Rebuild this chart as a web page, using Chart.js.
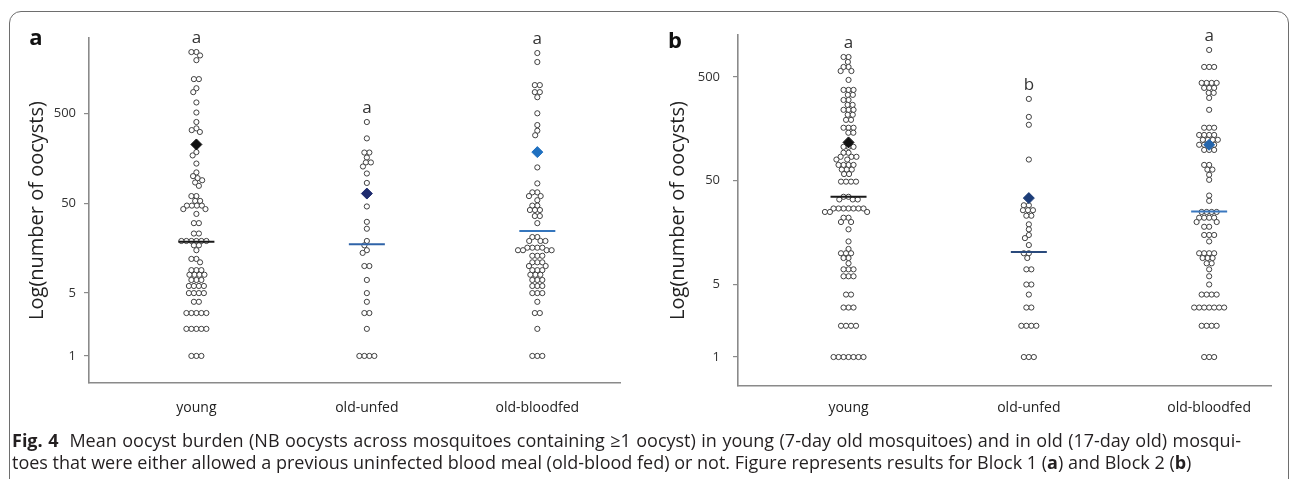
<!DOCTYPE html>
<html>
<head>
<meta charset="utf-8">
<script src="https://cdn.jsdelivr.net/npm/chart.js@4/dist/chart.umd.min.js"></script>
<style>
  html, body { margin: 0; padding: 0; background: #fff; }
  body { width: 1291px; height: 479px; overflow: hidden; position: relative; font-family: "Open Sans", sans-serif; }
  #frame { position: absolute; left: 9px; top: 11px; width: 1280px; height: 600px; box-sizing: border-box;
           border: 1.6px solid #6e6e6e; border-radius: 12px; }
  #ca { position: absolute; left: 0; top: 0; }
  #cb { position: absolute; left: 640px; top: 0; }
  .cap { position: absolute; left: 12px; font-size: 18px; line-height: 22px; color: #231f20; white-space: nowrap; }
  #l1 { top: 429px; }
  #l2 { top: 451px; }
</style>
</head>
<body>
<div id="frame"></div>
<canvas id="ca" width="640" height="430"></canvas>
<canvas id="cb" width="651" height="430"></canvas>
<div class="cap" id="l1"><b>Fig. 4</b>&nbsp; Mean oocyst burden (NB oocysts across mosquitoes containing ≥1 oocyst) in young (7-day old mosquitoes) and in old (17-day old) mosqui-</div>
<div class="cap" id="l2">toes that were either allowed a previous uninfected blood meal (old-blood fed) or not. Figure represents results for Block 1 (<b>a</b>) and Block 2 (<b>b</b>)</div>
<script>
// ---------- data ----------
const categories = ['young', 'old-unfed', 'old-bloodfed'];
const yTickValues = [1, 5, 50, 500];
const yTitle = 'Log(number of oocysts)';

// Block 1 (panel a)
const aYoung = [2400, 2400, 2200, 1950, 1200, 1200, 950, 860, 660, 510, 400, 340, 325, 310, 185, 170, 138,
  110, 100, 95, 90, 85, 78, 60, 60, 53, 53, 47, 47, 47, 47, 43, 43, 38, 30, 30, 23, 23,
  19, 19, 19, 19, 19, 19, 17, 17, 15, 12, 12, 11, 9, 9, 9, 8, 8, 8, 8, 7, 7, 7, 6, 6, 6, 6,
  5, 5, 5, 5, 4, 4, 3, 3, 3, 3, 3, 2, 2, 2, 2, 2, 1, 1, 1];
const aUnfed = [400, 263, 183, 183, 161, 142, 142, 128, 107, 84, 46, 31, 26, 19, 17, 15, 14, 10, 10, 7, 5, 4, 3, 3, 2, 1, 1, 1, 1];
const aBloodfed = [2340, 1860, 1030, 1030, 860, 860, 755, 500, 370, 320, 285, 125, 83, 66, 66, 60, 60, 54, 47, 47,
  42, 42, 42, 36, 36, 30, 21, 21, 19, 19, 19, 16, 16, 16, 16, 15, 15, 15, 15, 13, 13, 13, 11, 11, 11,
  10, 10, 9, 9, 9, 8, 8, 8, 7, 7, 7, 6, 6, 6, 5, 5, 5, 4, 3, 3, 2, 1, 1, 1];
const aMeans = [225, 64, 185];
const aMedians = [18.6, 17.5, 24.6];
const aLetters = ['a', 'a', 'a'];

// Block 2 (panel b)
const bYoung = [778, 778, 697, 624, 624, 570, 570, 468, 375, 375, 375, 336, 336, 300, 300, 269, 269, 241, 241, 241,
  216, 216, 193, 193, 162, 162, 162, 145, 145, 106, 106, 106, 93, 93, 85, 85, 85, 80, 80, 71, 71, 71, 71,
  64, 64, 64, 58, 58, 49, 49, 49, 49, 35, 35, 33, 33, 33, 27, 27, 27, 27, 27, 27, 27, 25, 25, 25, 22, 22,
  20, 20, 17, 13, 11, 10, 10, 10, 9, 9, 8, 7, 7, 7, 6, 6, 6, 4, 4, 3, 3, 3, 2, 2, 2, 2, 1, 1, 1, 1, 1, 1, 1];
const bUnfed = [307, 206, 173, 80, 29, 29, 26, 26, 26, 23, 23, 19, 17, 15, 14, 12, 10, 10, 9, 7, 7, 5, 5, 4, 3, 3, 2, 2, 2, 2, 1, 1, 1];
const bBloodfed = [910, 624, 624, 624, 438, 438, 438, 438, 392, 392, 392, 351, 351, 314, 241, 162, 162, 162,
  138, 138, 138, 138, 124, 124, 124, 124, 111, 111, 111, 111, 99, 99, 99, 71, 71, 64, 64, 57, 51, 36, 32,
  25, 25, 25, 25, 22, 22, 22, 22, 20, 20, 18, 18, 15, 15, 15, 13, 10, 10, 10, 10, 9, 9, 9, 8, 8, 7, 6, 5,
  4, 4, 4, 4, 3, 3, 3, 3, 3, 3, 3, 2, 2, 2, 2, 1, 1, 1];
const bMeans = [117, 34, 111];
const bMedians = [35, 10.3, 25.3];
const bLetters = ['a', 'b', 'a'];

// ---------- caption fitting (first line justified to the column width) ----------
(function fitCaption() {
  const l1 = document.getElementById('l1'), l2 = document.getElementById('l2');
  const target = 1229;
  let fs = 18;
  l1.style.fontSize = fs + 'px';
  let w = l1.getBoundingClientRect().width;
  while (w > target && fs > 10) { fs -= 0.2; l1.style.fontSize = fs + 'px'; w = l1.getBoundingClientRect().width; }
  l2.style.fontSize = fs + 'px';
  const gaps = (l1.textContent.match(/[ \u00a0]/g) || []).length;
  l1.style.wordSpacing = ((target - w) / gaps) + 'px';
})();

// ---------- styles ----------
Chart.defaults.font.family = '"Open Sans", sans-serif';
const AXIS = '#8a8a8a';
const meanColorsA = ['#111111', '#1e2b6e', '#1f70c0'];
const meanColorsB = ['#111111', '#1c3d78', '#2466ad'];
const medColorsA = ['#1a1a1a', '#2f63a8', '#3576bd'];
const medColorsB = ['#1a1a1a', '#2a4a7c', '#3a78bf'];

// ---------- beeswarm layout (pixel space) ----------
function swarm(py, d) {
  const order = py.map((_, i) => i).sort((a, b) => py[a] - py[b]);
  const placed = [];
  const out = new Array(py.length);
  for (const i of order) {
    const y = py[i];
    const near = placed.filter(p => Math.abs(p.y - y) < d);
    const cands = [0];
    near.forEach(p => {
      const dx = Math.sqrt(Math.max(d * d - (p.y - y) * (p.y - y), 0));
      cands.push(p.x - dx, p.x + dx);
    });
    cands.sort((a, b) => Math.abs(a) - Math.abs(b) || a - b);
    const x = cands.find(c => near.every(p => (p.x - c) ** 2 + (p.y - y) ** 2 >= d * d - 1e-3));
    out[i] = x;
    placed.push({ x, y, i });
  }
  // centre isolated rows of identical values
  const rows = {};
  py.forEach((y, i) => { const k = y.toFixed(3); (rows[k] = rows[k] || []).push(i); });
  Object.values(rows).forEach(idx => {
    const y = py[idx[0]];
    const isolated = py.every((yy, j) => idx.includes(j) || Math.abs(yy - y) >= d);
    if (isolated) {
      const m = idx.reduce((s, j) => s + out[j], 0) / idx.length;
      idx.forEach(j => { out[j] -= m; });
    }
  });
  return out;
}

const letterPlugin = {
  id: 'groupLetters',
  afterDatasetsDraw(chart, args, opts) {
    const { ctx, scales: { x, y } } = chart;
    ctx.save();
    ctx.fillStyle = '#333';
    ctx.font = '17px "Open Sans", sans-serif';
    ctx.textAlign = 'center';
    ctx.textBaseline = 'alphabetic';
    opts.groups.forEach((g, i) => {
      const top = Math.max(...g);
      ctx.fillText(opts.letters[i], x.getPixelForValue(i), y.getPixelForValue(top) - 9);
    });
    ctx.font = 'bold 22px "Open Sans", sans-serif';
    ctx.fillStyle = '#111';
    ctx.fillText(opts.panel, opts.panelX, opts.panelY);
    ctx.restore();
  }
};

function makePanel(id, p) {
  const groups = p.groups;
  const datasets = [
    { label: 'mean', order: 0, data: p.means.map((v, i) => ({ x: i, y: v })),
      pointStyle: 'rectRot', pointRadius: 5.5, pointBackgroundColor: p.meanColors,
      pointBorderColor: p.meanColors, pointBorderWidth: 1 },
    { label: 'median', order: 1, data: p.medians.map((v, i) => ({ x: i, y: v })),
      pointStyle: 'line', pointRadius: 18, pointBorderColor: p.medColors, pointBorderWidth: 2 }
  ];
  groups.forEach((g, gi) => datasets.push({
    label: categories[gi], order: 2, data: g.map(v => ({ x: gi, y: v })),
    pointStyle: 'circle', pointRadius: 2.6, pointBackgroundColor: '#ffffff',
    pointBorderColor: '#404040', pointBorderWidth: 1
  }));

  const chart = new Chart(document.getElementById(id), {
    type: 'scatter',
    data: { datasets },
    plugins: [letterPlugin],
    options: {
      responsive: false, animation: false, events: [],
      layout: { padding: { left: 0, top: p.top, right: p.right, bottom: 0 } },
      plugins: {
        legend: { display: false }, tooltip: { enabled: false },
        groupLetters: { groups, letters: p.letters, panel: p.panel, panelX: p.panelX, panelY: p.panelY }
      },
      scales: {
        x: {
          type: 'linear', min: p.xMin, max: p.xMax, bounds: 'data',
          afterBuildTicks: s => { s.ticks = categories.map((c, i) => ({ value: i })); },
          ticks: { callback: v => categories[v], padding: p.xPad, color: '#222',
                   font: { size: 14 }, maxRotation: 0, autoSkip: false },
          grid: { display: false, drawTicks: false },
          border: { display: true, color: AXIS, width: 1.6 },
          afterFit: s => { s.height = p.xHeight; s.paddingLeft = 0; s.paddingRight = 0; }
        },
        y: {
          type: 'logarithmic', min: p.yMin, max: p.yMax, bounds: 'data',
          afterBuildTicks: s => { s.ticks = yTickValues.map(v => ({ value: v })); },
          ticks: { callback: v => String(v), padding: p.yPad, color: '#333', font: { size: 13 } },
          grid: { display: true, drawOnChartArea: false, drawTicks: true, tickLength: 5, color: AXIS, lineWidth: 1.2 },
          border: { display: true, color: AXIS, width: 1.6 },
          title: { display: true, text: yTitle, color: '#222', font: { size: 20 }, padding: { top: p.titlePad, bottom: 0 } },
          afterFit: s => { s.width = p.yWidth; s.paddingTop = 0; s.paddingBottom = 0; }
        }
      }
    }
  });

  // place swarm offsets using the chart's own scales
  const xs = chart.scales.x, ys = chart.scales.y;
  const pxPerUnit = Math.abs(xs.getPixelForValue(1) - xs.getPixelForValue(0));
  groups.forEach((g, gi) => {
    const py = g.map(v => ys.getPixelForValue(v));
    const off = swarm(py, 5.0);
    chart.data.datasets[2 + gi].data = g.map((v, k) => ({ x: gi + off[k] / pxPerUnit, y: v }));
  });
  chart.update('none');
  return chart;
}

makePanel('ca', {
  groups: [aYoung, aUnfed, aBloodfed], means: aMeans, medians: aMedians, letters: aLetters,
  meanColors: meanColorsA, medColors: medColorsA,
  top: 38, right: 12, xHeight: 47, xPad: 17, xMin: -0.63, xMax: 2.485,
  yMin: 0.5, yMax: 3440, yWidth: 89, yPad: 8, titlePad: 25,
  panel: 'a', panelX: 36, panelY: 45
});
makePanel('cb', {
  groups: [bYoung, bUnfed, bBloodfed], means: bMeans, medians: bMedians, letters: bLetters,
  meanColors: meanColorsB, medColors: medColorsB,
  top: 35, right: 18, xHeight: 44, xPad: 14, xMin: -0.613, xMax: 2.343,
  yMin: 0.526, yMax: 1268, yWidth: 98, yPad: 13, titlePad: 26,
  panel: 'b', panelX: 35, panelY: 48
});
</script>
</body>
</html>
